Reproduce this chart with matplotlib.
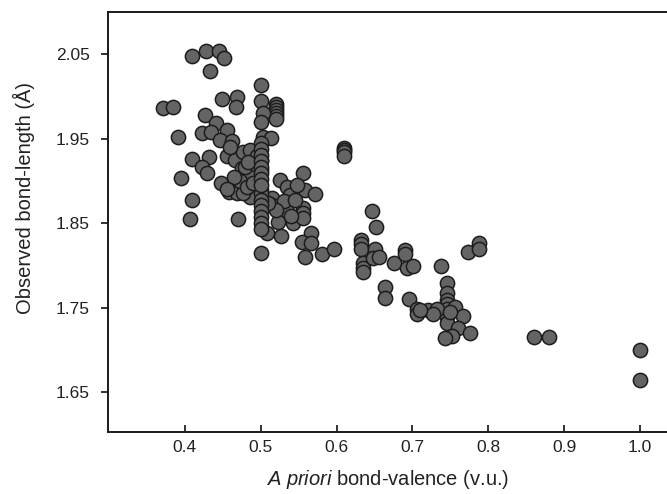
import matplotlib
matplotlib.use("Agg")
import matplotlib.pyplot as plt

plt.rcParams["font.family"] = ["Liberation Sans", "DejaVu Sans"]
plt.rcParams["mathtext.fontset"] = "custom"
plt.rcParams["mathtext.it"] = "Liberation Sans:italic"
plt.rcParams["mathtext.rm"] = "Liberation Sans"

# upper-left cloud (bond-valence ~0.37-0.60)
bv_a = [0.409, 0.428, 0.445, 0.451, 0.433, 0.500, 0.449, 0.469, 0.467, 0.371, 0.384,
        0.500, 0.52, 0.52, 0.52, 0.52, 0.52, 0.52, 0.503, 0.500, 0.426, 0.441, 0.455,
        0.391, 0.422, 0.434, 0.446, 0.462, 0.503, 0.513,
        0.409, 0.432, 0.422, 0.429, 0.395, 0.455, 0.466, 0.477, 0.486, 0.500,
        0.475, 0.486, 0.500, 0.447, 0.463, 0.486, 0.500, 0.409, 0.458, 0.469, 0.479,
        0.61, 0.61, 0.61, 0.61,
        0.525, 0.535, 0.556, 0.558, 0.572, 0.539, 0.515,
        0.407, 0.470, 0.500, 0.508, 0.527, 0.515, 0.548, 0.535, 0.542, 0.523,
        0.556, 0.556, 0.556, 0.566, 0.554, 0.566, 0.558, 0.581, 0.597, 0.477, 0.500,
        0.472, 0.482, 0.492, 0.465, 0.490, 0.455, 0.530, 0.545, 0.520, 0.510, 0.540,
        0.460, 0.495, 0.483]
bl_a = [2.048, 2.054, 2.054, 2.045, 2.030, 2.013, 1.997, 1.999, 1.987, 1.986, 1.987,
        1.994, 1.991, 1.987, 1.984, 1.980, 1.977, 1.973, 1.980, 1.970, 1.978, 1.968, 1.960,
        1.952, 1.957, 1.958, 1.948, 1.947, 1.952, 1.951,
        1.926, 1.928, 1.916, 1.909, 1.904, 1.929, 1.925, 1.934, 1.936, 1.925,
        1.915, 1.907, 1.913, 1.897, 1.890, 1.881, 1.889, 1.877, 1.887, 1.886, 1.916,
        1.939, 1.936, 1.934, 1.930,
        1.901, 1.893, 1.909, 1.889, 1.884, 1.883, 1.880,
        1.855, 1.855, 1.815, 1.838, 1.835, 1.871, 1.895, 1.864, 1.850, 1.851,
        1.868, 1.862, 1.856, 1.838, 1.828, 1.826, 1.810, 1.813, 1.819, 1.886, 1.886,
        1.900, 1.893, 1.920, 1.905, 1.898, 1.890, 1.876, 1.878, 1.866, 1.874, 1.858,
        1.940, 1.930, 1.922]

# the dense column at 0.50 v.u.
bv_col = [0.50] * 14
bl_col = [1.945, 1.938, 1.931, 1.923, 1.916, 1.909, 1.902, 1.895, 1.878, 1.871,
          1.864, 1.857, 1.850, 1.843]

# middle group (0.63-0.79 v.u.)
bv_b = [0.647, 0.652, 0.632, 0.632, 0.632, 0.635, 0.635, 0.635, 0.651, 0.648, 0.656,
        0.676, 0.690, 0.690, 0.693, 0.701, 0.738, 0.773, 0.788, 0.788,
        0.664, 0.664, 0.696,
        0.746, 0.746, 0.746, 0.746, 0.746, 0.746, 0.746,
        0.706, 0.706, 0.721, 0.732, 0.727, 0.756, 0.767, 0.760, 0.776, 0.752, 0.743,
        0.750, 0.710]
bl_b = [1.864, 1.846, 1.830, 1.825, 1.820, 1.803, 1.797, 1.792, 1.820, 1.809, 1.810,
        1.803, 1.818, 1.814, 1.797, 1.799, 1.799, 1.816, 1.826, 1.819,
        1.774, 1.762, 1.760,
        1.779, 1.767, 1.759, 1.754, 1.749, 1.739, 1.732,
        1.749, 1.743, 1.747, 1.749, 1.743, 1.751, 1.740, 1.726, 1.720, 1.717, 1.714,
        1.745, 1.747]

# high bond-valence points
bv_c = [0.860, 0.880, 1.0, 1.0]
bl_c = [1.715, 1.715, 1.700, 1.664]

bv = bv_a + bv_col + bv_b + bv_c
bl = bl_a + bl_col + bl_b + bl_c

x_ticks = [0.4, 0.5, 0.6, 0.7, 0.8, 0.9, 1.0]
y_ticks = [1.65, 1.75, 1.85, 1.95, 2.05]

fig = plt.figure(figsize=(6.67, 4.94), dpi=100)
ax = fig.add_axes([0.162, 0.1255, 0.838, 0.85])

ax.scatter(bv, bl, s=105, facecolor="#646464", edgecolor="#1c1c1c", linewidth=1.1, zorder=3)

ax.set_xlim(0.2987, 1.0355)
ax.set_ylim(1.603, 2.0997)
ax.set_xticks(x_ticks)
ax.set_xticklabels(["%.1f" % v for v in x_ticks])
ax.set_yticks(y_ticks)
ax.set_yticklabels(["%.2f" % v for v in y_ticks])

ax.tick_params(axis="x", direction="in", length=5, width=1.3, pad=6, labelsize=12.5, colors="#222222")
ax.tick_params(axis="y", direction="out", length=5, width=1.3, pad=8, labelsize=12.5, colors="#222222")
for side in ["left", "bottom", "top"]:
    ax.spines[side].set_linewidth(1.4)
    ax.spines[side].set_color("#1a1a1a")
ax.spines["right"].set_visible(False)

ax.set_xlabel(r"$\mathit{A\ priori}$ bond-valence (v.u.)", fontsize=14.5, color="#222222")
ax.set_ylabel("Observed bond-length (Å)", fontsize=14.5, color="#222222")
ax.xaxis.set_label_coords(0.5, -0.085)
ax.yaxis.set_label_coords(-0.13, 0.557)

fig.savefig("out.png", dpi=100)
